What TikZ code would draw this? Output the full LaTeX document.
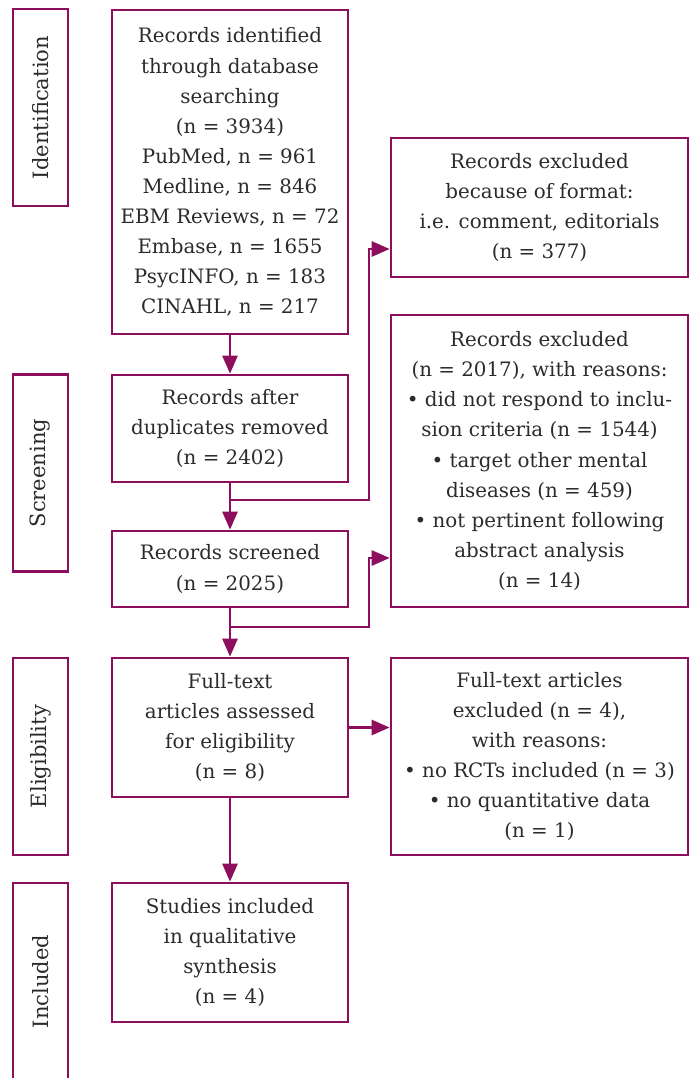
\documentclass[tikz,border=0pt]{standalone}
\usepackage{fontspec}
\setmainfont{DejaVu Serif}
\usepackage{tikz}
\usetikzlibrary{positioning,arrows.meta,calc}
\definecolor{prismaline}{HTML}{8C0E5C}
\definecolor{prismatext}{HTML}{2B2B2B}

\begin{document}
\begin{tikzpicture}[x=0.02cm, y=-0.02cm,
  >={Triangle[length=0.36cm,width=0.3cm]},
  every node/.style={font=\fontsize{11.3}{17.1}\selectfont, text=prismatext},
  box/.style={draw=prismaline, line width=0.055cm, align=center, inner sep=0pt},
  stage/.style={box, rotate=90, minimum width=3.94cm, minimum height=1.10cm,
    font=\fontsize{12}{17.1}\selectfont},
  main/.style={box, minimum width=4.72cm},
  side/.style={box, minimum width=5.94cm},
  link/.style={color=prismaline, line width=0.055cm}]
\useasboundingbox (0,0) rectangle (691,1078);

\node[stage] (ident) at (40.5,107.5) {Identification};
\node[stage] (screen) at (40.5,473) {Screening};
\node[stage] (elig) at (40.5,756.5) {Eligibility};
\node[stage] (incl) at (40.5,981.5) {Included};

\node[main, minimum height=6.48cm] (found) at (230,172) {Records identified\\through database\\searching\\(n = 3934)\\PubMed, n = 961\\Medline, n = 846\\EBM Reviews, n = 72\\Embase, n = 1655\\PsycINFO, n = 183\\CINAHL, n = 217};
\node[main, minimum height=2.14cm] (dedup) at (230,428.5) {Records after\\duplicates removed\\(n = 2402)};
\node[main, minimum height=1.52cm] (screened) at (230,569) {Records screened\\(n = 2025)};
\node[main, minimum height=2.78cm] (fulltext) at (230,727.5) {Full-text\\articles assessed\\for eligibility\\(n = 8)};
\node[main, minimum height=2.78cm] (studies) at (230,952.5) {Studies included\\in qualitative\\synthesis\\(n = 4)};

\node[side, minimum height=2.78cm] (exclA) at (539.5,207.5) {Records excluded\\because of format:\\i.e. comment, editorials\\(n = 377)};
\node[side, minimum height=5.84cm] (exclB) at (539.5,461) {Records excluded\\(n = 2017), with reasons:\\• did not respond to inclu-\\sion criteria (n = 1544)\\• target other mental\\diseases (n = 459)\\• not pertinent following\\abstract analysis\\(n = 14)};
\node[side, minimum height=3.94cm] (exclC) at (539.5,756.5) {Full-text articles\\excluded (n = 4),\\with reasons:\\• no RCTs included (n = 3)\\• no quantitative data\\(n = 1)};

\coordinate (split1) at (230,500);
\coordinate (turn1) at (369,249);
\coordinate (split2) at (230,627);
\coordinate (turn2) at (369,558);

\draw[link]
	(found) edge[->] (dedup)
	(dedup) edge[->] (screened)
	(screened) edge[->] (fulltext)
	(fulltext) edge[->] (studies)
	(fulltext) edge[->] (fulltext -| exclC.west)
;
\draw[link, ->] (split1) -| (turn1) -- (turn1 -| exclA.west);
\draw[link, ->] (split2) -| (turn2) -- (turn2 -| exclB.west);
\end{tikzpicture}
\end{document}
